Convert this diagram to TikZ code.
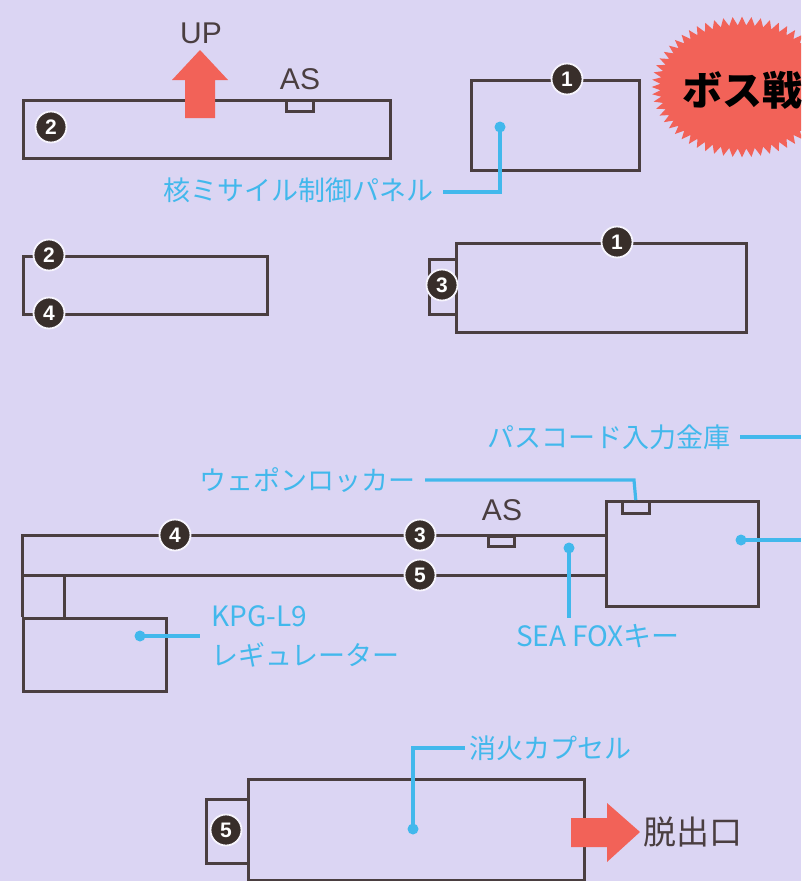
\documentclass[tikz,border=0pt]{standalone}
\usepackage{fontspec}
\newfontfamily\cjk{Noto Sans CJK JP}
\newfontfamily\lat{Liberation Sans}
\definecolor{bg}{RGB}{219,213,243}
\definecolor{ink}{RGB}{74,62,64}
\definecolor{sky}{RGB}{66,184,236}
\definecolor{redd}{RGB}{242,98,88}
\definecolor{numdark}{RGB}{56,46,42}
\begin{document}
\begin{tikzpicture}[x=1pt,y=-1pt,
  wire/.style={draw=ink, line width=3pt},
  box/.style={wire, rectangle, inner sep=0pt, anchor=north west},
  lead/.style={draw=sky, line width=3.2pt},
  bluedot/.style={circle, fill=sky, inner sep=0pt, minimum size=11pt},
  lbl/.style={text=sky, inner sep=0pt, font=\cjk\fontsize{27}{27}\selectfont},
  blk/.style={text=ink, inner sep=0pt, font=\cjk\fontsize{30}{30}\selectfont},
  num/.style={circle, fill=numdark, draw=white!75!bg, line width=1.8pt, minimum size=31pt,
              inner sep=0pt, text=white, font=\lat\bfseries\fontsize{21}{21}\selectfont},
  redarrow/.style={fill=redd, draw=none}]
\useasboundingbox (0,0) rectangle (801,881);
\clip (0,0) rectangle (801,881);
\fill[bg] (0,0) rectangle (801,881);

% boss badge
\fill[redd] plot[samples at={0,...,120}, variable=\i]
  ({742+(1+0.05*(1-2*mod(\i,2)))*86*cos(\i*3)}, {87+(1+0.065*(1-2*mod(\i,2)))*66*sin(\i*3)}) -- cycle;
\node[anchor=west, inner sep=0pt, text=black, font=\cjk\bfseries\fontsize{40}{40}\selectfont] (boss) at (682,90) {ボス戦};

% top-left
\node[box, minimum width=367pt, minimum height=58pt] (b1) at (22,99) {};
\node[box, line width=2.5pt, minimum width=27pt, minimum height=11pt] (as1) at (285,99) {};
\node[blk, font=\lat\fontsize{30}{30}\selectfont] (as1t) at (300,79) {AS};
\fill[redarrow] (185,118) -- (185,80) -- (172,80) -- (200,50) -- (228,80) -- (215,80) -- (215,118) -- cycle;
\node[blk, font=\lat\fontsize{30}{30}\selectfont] (up) at (201,33) {UP};
\node[num] (n2a) at (51,127) {2};

\node[box, minimum width=244pt, minimum height=58pt] (b2) at (22,255) {};
\node[num] (n2b) at (49,255) {2};
\node[num] (n4a) at (49,313) {4};

% top-right
\node[box, minimum width=168pt, minimum height=90pt] (b3) at (470,79) {};
\node[num] (n1a) at (567,79) {1};
\node[bluedot] (d1) at (500,127) {};
\node[lbl, anchor=east] (t1) at (434,190) {核ミサイル制御パネル};
\draw[lead] (d1.center) -- (500,192) -- (443,192);

\node[box, minimum width=27pt, minimum height=55pt] (b4s) at (428,258) {};
\node[box, fill=bg, minimum width=290pt, minimum height=89pt] (b4) at (455,242) {};
\node[num] (n3a) at (442,285) {3};
\node[num] (n1b) at (617,242) {1};

% middle
\node[box, minimum width=152pt, minimum height=105pt] (b6) at (605,500) {};
\node[box, line width=2.5pt, minimum width=27pt, minimum height=12pt] (wl) at (621,500) {};
\node[box, minimum width=143pt, minimum height=73pt] (b5) at (22,617) {};
\coordinate (L1) at (22,535);
\coordinate (L2) at (22,575);
\coordinate (J1) at (64,575);
\coordinate (J2) at (64,617);
\draw[wire] (b6.west |- L1) -- (L1) -- (b5.north west);
\draw[wire] (b6.west |- L2) -- (L2);
\draw[wire] (J1) -- (J2);
\node[box, line width=2.5pt, minimum width=26pt, minimum height=10pt] (as2) at (487,535) {};
\node[blk, font=\lat\fontsize{30}{30}\selectfont] (as2t) at (502,510) {AS};
\node[num] (n4b) at (175,535) {4};
\node[num] (n3b) at (420,535) {3};
\node[num] (n5a) at (420,575) {5};

\node[lbl, anchor=east] (t2) at (416,480) {ウェポンロッカー};
\draw[lead] (425,480) -- (634,480) -- (wl.north);
\node[lbl, anchor=east] (t3) at (731,437) {パスコード入力金庫};
\coordinate (e3) at (801,437);
\draw[lead] ([xshift=9pt]t3.east) -- (e3);
\node[bluedot] (d2) at (741,540) {};
\coordinate (e4) at (801,540);
\draw[lead] (d2.center) -- (e4);
\node[bluedot] (d3) at (569,548) {};
\node[lbl, font=\cjk\fontsize{28}{28}\selectfont] (t4) at (598,636) {SEA FOXキー};
\draw[lead] (d3.center) -- (569,618);
\node[bluedot] (d4) at (140,636) {};
\node[lbl, anchor=west, font=\cjk\fontsize{28}{28}\selectfont] (t5) at (211,616) {KPG-L9};
\node[lbl, anchor=west] (t6) at (211,655) {レギュレーター};
\draw[lead] (d4.center) -- (200,636);

% bottom
\node[box, minimum width=42pt, minimum height=64pt] (b7s) at (205,798) {};
\node[box, fill=bg, minimum width=336pt, minimum height=101pt] (b7) at (247,778) {};
\node[num] (n5b) at (226,830) {5};
\node[bluedot] (d5) at (413,829) {};
\node[lbl, anchor=west] (t7) at (469,748) {消火カプセル};
\draw[lead] (d5.center) -- (413,748) -- (465,748);
\fill[redarrow] (571,818) -- (607,818) -- (607,803) -- (640,832) -- (607,862) -- (607,847) -- (571,847) -- cycle;
\node[blk, anchor=west, font=\cjk\fontsize{33}{33}\selectfont] (exit) at (643,832) {脱出口};
\end{tikzpicture}
\end{document}
